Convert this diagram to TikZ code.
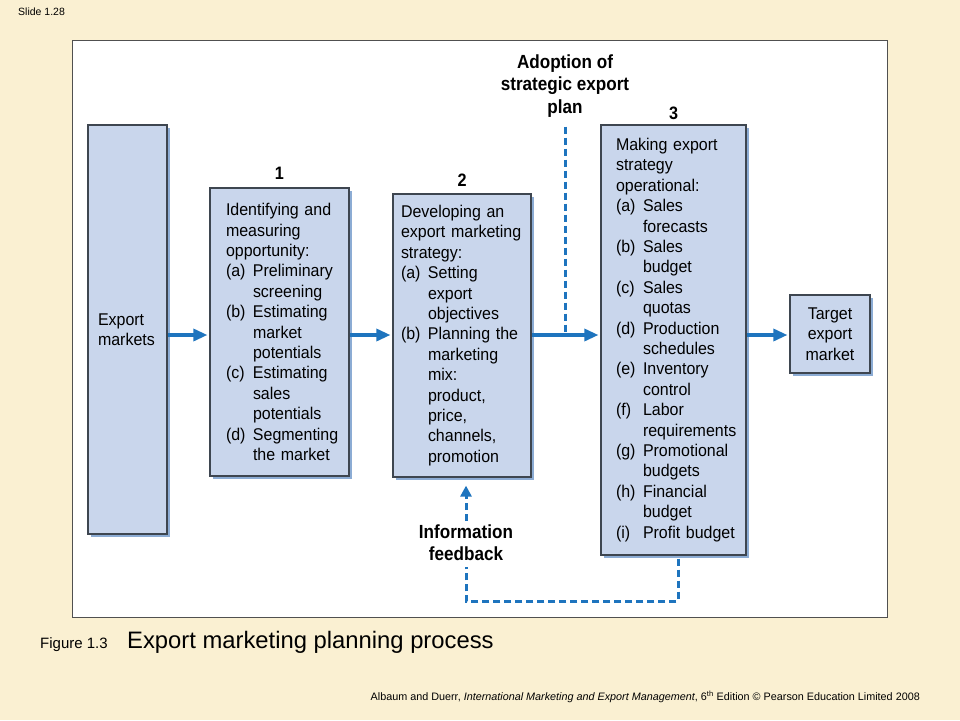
\documentclass[tikz,border=0pt]{standalone}
\usepackage{fontspec}
\setmainfont{Liberation Sans}
\newfontfamily\headfont[FakeStretch=0.9]{Liberation Sans}
\newfontfamily\boxfont[FakeStretch=0.94]{Liberation Sans}
\usetikzlibrary{arrows.meta,shadows}
\definecolor{slidecream}{RGB}{250,240,210}
\definecolor{paneledge}{RGB}{80,80,80}
\definecolor{boxfill}{RGB}{201,214,236}
\definecolor{boxedge}{RGB}{62,70,80}
\definecolor{boxshadow}{RGB}{140,172,212}
\definecolor{flowblue}{RGB}{30,116,190}
\hyphenpenalty=10000
\hbadness=10000
\hfuzz=40pt
\newcommand{\lbl}[1]{\makebox[27pt][l]{#1}}
\newcommand{\ind}{\makebox[27pt]{}}
\tikzset{
  stagebox/.style={draw=boxedge, line width=1.2pt, fill=boxfill,
    copy shadow={shadow xshift=3pt, shadow yshift=-3pt, draw=none, fill=boxshadow, opacity=1},
    align=left, inner sep=0pt, font=\boxfont\fontsize{17}{20.4}\selectfont},
  stepnum/.style={inner sep=0pt, font=\headfont\bfseries\fontsize{18}{20}\selectfont},
  headtext/.style={align=center, inner sep=0pt, font=\headfont\bfseries\fontsize{19}{22.5}\selectfont},
  flowarrow/.style={flowblue, line width=3.2pt, -{Triangle[length=14pt,width=12pt]}, shorten >=2pt},
  dashflow/.style={flowblue, line width=3pt, dash pattern=on 7pt off 4pt}
}

\begin{document}
\begin{tikzpicture}[x=1pt,y=-1pt]
% Slide background and white panel
\fill[slidecream] (0,0) rectangle (960,720);
\draw[paneledge, fill=white, line width=1pt] (72,40) rectangle (887,617);
\node[anchor=base west, inner sep=0pt, font=\fontsize{10.5}{12}\selectfont] (slideno) at (18,15) {Slide 1.28};
% Stage boxes
\node[stagebox, minimum width=79pt, minimum height=409pt, text width=59pt] (markets) at (127.5,329.5) {Export\\markets};
\node[stagebox, minimum width=139pt, minimum height=288pt, text width=107pt,
  label={[stepnum, label distance=8pt]above:1}] (identify) at (279.5,332) {Identifying and\\measuring\\opportunity:\\\lbl{(a)}Preliminary\\\ind screening\\\lbl{(b)}Estimating\\\ind market\\\ind potentials\\\lbl{(c)}Estimating\\\ind sales\\\ind potentials\\\lbl{(d)}Segmenting\\\ind the~market};
\node[stagebox, minimum width=138pt, minimum height=283pt, text width=122pt,
  label={[stepnum, label distance=6.5pt]above:2}] (develop) at (462,335.5) {Developing~an\\export~marketing\\strategy:\\\lbl{(a)}Setting\\\ind export\\\ind objectives\\\lbl{(b)}Planning~the\\\ind marketing\\\ind mix:\\\ind product,\\\ind price,\\\ind channels,\\\ind promotion};
\node[stagebox, minimum width=145pt, minimum height=430pt, text width=115pt,
  label={[stepnum, label distance=4.5pt]above:3}] (making) at (673.5,340) {Making~export\\strategy\\operational:\\\lbl{(a)}Sales\\\ind forecasts\\\lbl{(b)}Sales\\\ind budget\\\lbl{(c)}Sales\\\ind quotas\\\lbl{(d)}Production\\\ind schedules\\\lbl{(e)}Inventory\\\ind control\\\lbl{(f)}Labor\\\ind requirements\\\lbl{(g)}Promotional\\\ind budgets\\\lbl{(h)}Financial\\\ind budget\\\lbl{(i)}Profit~budget};
\node[stagebox, align=center, minimum width=80pt, minimum height=78pt, text width=70pt] (target) at (830,334) {Target\\export\\market};
% Side labels
\node[headtext] (adopt) at (565,86) {Adoption of\\strategic export\\plan};
\node[headtext] (info) at (466,542.5) {Information\\feedback};
% Main flow
\coordinate (axis) at (0,335);
\draw[flowarrow] (markets.east |- axis) -- (identify.west |- axis);
\draw[flowarrow] (identify.east |- axis) -- (develop.west |- axis);
\draw[flowarrow] (develop.east |- axis) -- (making.west |- axis);
\draw[flowarrow] (making.east |- axis) -- (target.west |- axis);
% Dashed links
\draw[dashflow, shorten <=9pt] (adopt.south) -- (adopt.south |- axis);
\coordinate (fbturn) at (466,601);
\draw[dashflow, shorten <=3pt, shorten >=6pt] ([xshift=4.5pt]making.south) |- (fbturn) -- (info.south);
\draw[dashflow, -{Triangle[length=11pt,width=11pt]}, shorten <=3pt, shorten >=8pt] (info.north) -- (info.north |- develop.south);
% Caption and source line
\node[anchor=base west, inner sep=0pt, font=\fontsize{15}{18}\selectfont] (figno) at (40,648) {Figure 1.3};
\node[anchor=base west, inner sep=0pt, font=\fontsize{23.8}{28}\selectfont] (title) at (127,648) {Export marketing planning process};
\node[anchor=base east, inner sep=0pt, font=\fontsize{10.8}{12}\selectfont] (source) at (920,700) {Albaum and Duerr, \textit{International Marketing and Export Management}, 6\textsuperscript{th} Edition \textcopyright{} Pearson Education Limited 2008};
\end{tikzpicture}
\end{document}
